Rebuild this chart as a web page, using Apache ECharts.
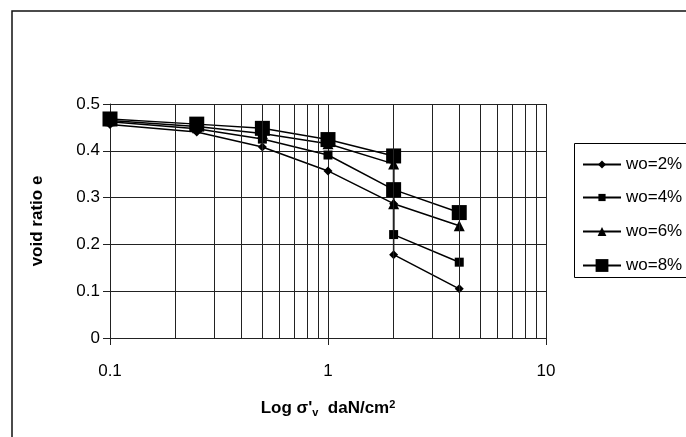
<!DOCTYPE html>
<html>
<head>
<meta charset="utf-8">
<script src="https://cdn.jsdelivr.net/npm/echarts@6/dist/echarts.min.js"></script>
<style>
  html, body { margin: 0; padding: 0; background: #fff; }
  #chart { width: 686px; height: 437px; }
</style>
</head>
<body>
<div id="chart"></div>
<script>
// vertical stress (daN/cm2), the step at 2 is listed twice
const pressures = [0.1, 0.25, 0.5, 1, 2, 2, 4]
const e2 = [0.456, 0.440, 0.408, 0.357, 0.287, 0.178, 0.105]
const e4 = [0.462, 0.447, 0.425, 0.391, 0.317, 0.221, 0.162]
const e6 = [0.465, 0.452, 0.437, 0.415, 0.372, 0.287, 0.240]
const e8 = [0.468, 0.457, 0.448, 0.424, 0.389, 0.317, 0.268]
const seriesNames = ['wo=2%', 'wo=4%', 'wo=6%', 'wo=8%']
// minor log grid lines
const minorLines = [0.2, 0.3, 0.4, 0.5, 0.6, 0.7, 0.8, 0.9, 2, 3, 4, 5, 6, 7, 8, 9]

const font = 'Arial, "Liberation Sans", sans-serif'
const ink = '#000'
const gridColor = '#222'

const pairs = (ys) => pressures.map((x, i) => [x, ys[i]])

const lineSeries = (name, ys, symbol, size) => ({
  name,
  type: 'line',
  data: pairs(ys),
  symbol,
  symbolSize: size,
  showAllSymbol: true,
  itemStyle: { color: ink },
  lineStyle: { color: ink, width: 1.5 },
  emphasis: { disabled: true },
  z: 3,
})

// one legend per entry so each icon can have its own marker size
const legendRow = (name, centerY, iconH) => ({
  data: [name],
  orient: 'vertical',
  left: 582,
  top: centerY - 9,
  padding: 0,
  itemWidth: 38,
  itemHeight: iconH,
  selectedMode: false,
  textStyle: { fontSize: 17, color: ink, fontFamily: font },
})

let myChart = echarts.init(document.getElementById('chart'))
let option = {
  animation: false,
  textStyle: { fontFamily: font },
  graphic: [
    {
      type: 'rect',
      shape: { x: 12, y: 11, width: 720, height: 460 },
      style: { fill: 'none', stroke: '#111', lineWidth: 1.5 },
      silent: true,
    },
    {
      type: 'rect',
      shape: { x: 574.5, y: 143.5, width: 200, height: 134 },
      style: { fill: '#fff', stroke: ink, lineWidth: 1 },
      silent: true,
      z: -1,
    },
  ],
  grid: { left: 110, right: 140, top: 104, bottom: 99 },
  legend: [
    legendRow('wo=2%', 165, 10),
    legendRow('wo=4%', 198, 9),
    legendRow('wo=6%', 232, 11),
    legendRow('wo=8%', 266, 16),
  ],
  xAxis: {
    type: 'log',
    logBase: 10,
    min: 0.1,
    max: 10,
    name: "Log σ'{sub|v}  daN/cm{sup|2}",
    nameLocation: 'middle',
    nameGap: 61,
    nameTextStyle: {
      fontSize: 17,
      fontWeight: 'bold',
      color: ink,
      rich: {
        sub: { fontSize: 11, fontWeight: 'bold', verticalAlign: 'bottom', padding: [8, 0, 0, 0] },
        sup: { fontSize: 11, fontWeight: 'bold', verticalAlign: 'top', padding: [0, 0, 6, 0] },
      },
    },
    axisLine: { onZero: false, lineStyle: { color: gridColor, width: 1 } },
    axisTick: { show: true, length: 7, lineStyle: { color: gridColor } },
    axisLabel: { fontSize: 17, color: ink, margin: 25 },
    splitLine: { show: true, lineStyle: { color: gridColor, width: 1 } },
  },
  yAxis: {
    type: 'value',
    min: 0,
    max: 0.5,
    interval: 0.1,
    name: 'void ratio e',
    nameLocation: 'middle',
    nameGap: 64,
    nameTextStyle: { fontSize: 17, fontWeight: 'bold', color: ink },
    axisLine: { show: true, lineStyle: { color: gridColor, width: 1 } },
    axisTick: { show: true, length: 7, lineStyle: { color: gridColor } },
    axisLabel: { fontSize: 17, color: ink, margin: 10 },
    splitLine: { show: true, lineStyle: { color: gridColor, width: 1 } },
  },
  series: [
    {
      name: 'minor',
      type: 'line',
      data: [],
      silent: true,
      z: 1,
      markLine: {
        silent: true,
        symbol: 'none',
        label: { show: false },
        lineStyle: { color: gridColor, width: 1, type: 'solid' },
        data: minorLines.map((v) => ({ xAxis: v })),
      },
    },
    lineSeries('wo=2%', e2, 'diamond', 9),
    lineSeries('wo=4%', e4, 'rect', 9),
    lineSeries('wo=6%', e6, 'triangle', 11),
    lineSeries('wo=8%', e8, 'rect', 15),
  ],
}
myChart.setOption(option)
</script>
</body>
</html>
